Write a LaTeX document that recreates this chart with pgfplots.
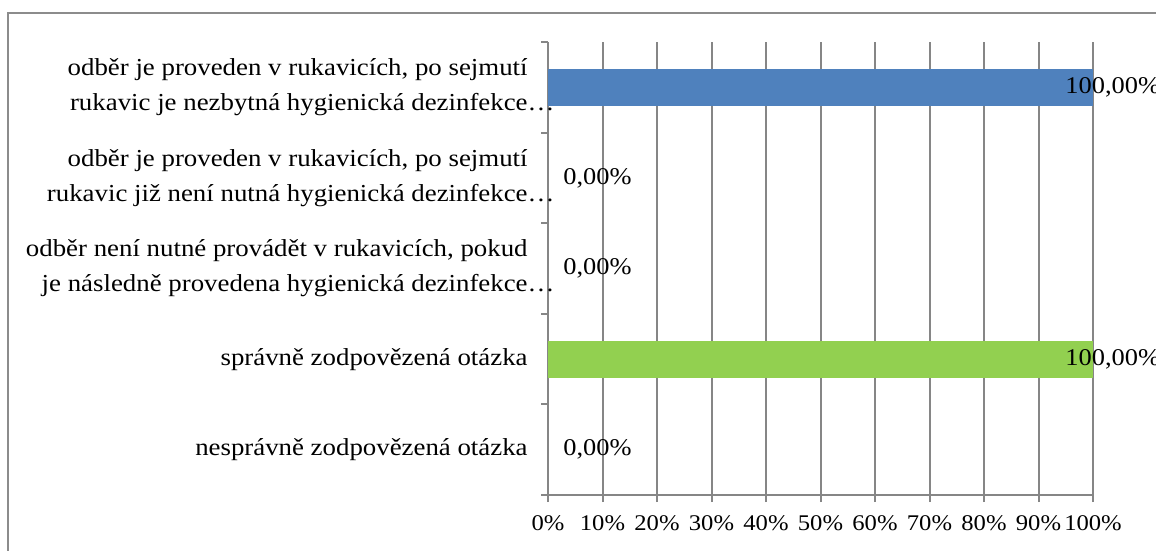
\documentclass[border=0pt]{standalone}
\usepackage{fontspec}
\setmainfont{Liberation Serif}[FakeStretch=1.1]
\usepackage{pgfplots}
\pgfplotsset{compat=1.18}
\definecolor{barblue}{RGB}{79,129,189}
\definecolor{bargreen}{RGB}{146,208,80}
\definecolor{gridgray}{RGB}{134,134,134}
\definecolor{framegray}{RGB}{140,140,140}
\begin{document}
\begin{tikzpicture}
\useasboundingbox (0,0) rectangle (578pt,-275.5pt);
\draw[framegray, line width=0.6pt] (4pt,-6.5pt) rectangle (640pt,-330pt);
\begin{axis}[
  at={(274pt,-247.5pt)}, anchor=south west,
  scale only axis, width=272.5pt, height=226.5pt,
  every axis plot/.append style={xbar, bar shift=0pt, bar width=0.41, draw=none},
  xmin=0, xmax=100, ymin=-0.5, ymax=4.5,
  axis x line=bottom, axis y line=left,
  axis line style={gridgray, line width=1pt, -},
  xtick={0,10,20,30,40,50,60,70,80,90,100},
  xticklabels={0\%,10\%,20\%,30\%,40\%,50\%,60\%,70\%,80\%,90\%,100\%},
  xticklabel style={font=\fontsize{11.2}{13}\selectfont, yshift=-3.5pt},
  xmajorgrids, grid style={gridgray, line width=1pt},
  tick align=outside, major tick length=3.5pt,
  tick style={gridgray, line width=1pt},
  ytick={-0.5,0.5,1.5,2.5,3.5,4.5}, yticklabels={},
  extra y ticks={0,1,2,3,4},
  extra y tick labels={
    {nesprávně zodpovězená otázka},
    {správně zodpovězená otázka},
    {odběr není nutné provádět v rukavicích, pokud\\[3pt]je následně provedena hygienická dezinfekce\rlap{…}},
    {odběr je proveden v rukavicích, po sejmutí\\[3pt]rukavic již není nutná hygienická dezinfekce\rlap{…}},
    {odběr je proveden v rukavicích, po sejmutí\\[3pt]rukavic je nezbytná hygienická dezinfekce\rlap{…}}},
  extra y tick style={major tick length=0pt,
    yticklabel style={anchor=east, inner sep=0pt, xshift=-10pt, align=right,
      font=\fontsize{12.2}{14.5}\selectfont}},
  point meta=x,
  nodes near coords={\pgfmathprintnumber[fixed,fixed zerofill,precision=2,use comma,assume math mode=true]{\pgfplotspointmeta}\%},
  nodes near coords style={anchor=west, inner sep=0pt, font=\fontsize{12}{14}\selectfont},
]
\addplot[fill=barblue, nodes near coords style={xshift=-14pt}] coordinates {(100,4)};
\addplot[fill=bargreen, nodes near coords style={xshift=-14pt}] coordinates {(100,1)};
\addplot[fill=none, nodes near coords style={xshift=7.5pt}] coordinates {(0,3) (0,2) (0,0)};
\end{axis}
\end{tikzpicture}
\end{document}
